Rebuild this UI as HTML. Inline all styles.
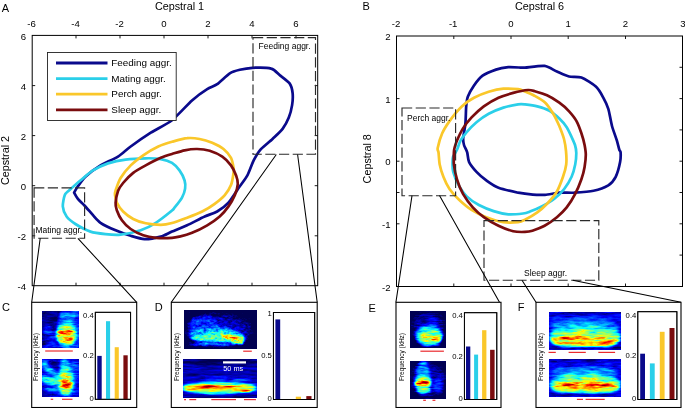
<!DOCTYPE html>
<html><head><meta charset="utf-8"><title>Figure</title>
<style>
html,body{margin:0;padding:0;background:#fff}
svg{display:block}
text{font-family:"Liberation Sans", sans-serif;fill:#000}
.t{font-size:9.6px}
.l{font-size:10.8px}
.g{font-size:9.9px}
.s{font-size:8.5px}
.b{font-size:7.7px}
.p{font-size:11px}
.f{font-size:6.5px}
.ms{font-size:7.3px;fill:#fff}
</style></head><body>
<svg width="685" height="408" viewBox="0 0 685 408">
<defs>
<filter id="b1" x="-50%" y="-50%" width="200%" height="200%"><feGaussianBlur stdDeviation="0.9"/></filter>
<filter id="b2" x="-50%" y="-50%" width="200%" height="200%"><feGaussianBlur stdDeviation="1.8"/></filter>
<filter id="b3" x="-50%" y="-50%" width="200%" height="200%"><feGaussianBlur stdDeviation="3"/></filter>
<filter id="j1" filterUnits="userSpaceOnUse" x="42.9" y="311" width="35.6" height="37" color-interpolation-filters="sRGB">
<feTurbulence type="fractalNoise" baseFrequency="0.12 0.45" numOctaves="3" seed="3" result="n"/>
<feColorMatrix in="n" type="matrix" values="1.4 0 0 0 -0.2  1.4 0 0 0 -0.2  1.4 0 0 0 -0.2  0 0 0 0 1" result="n2"/>
<feComposite in="SourceGraphic" in2="n2" operator="arithmetic" k1="0.55" k2="0.72" k3="0.1" k4="-0.05" result="m"/>
<feComponentTransfer in="m">
<feFuncR type="table" tableValues="0 0 0 0 0.5 1 1 1 0.5"/>
<feFuncG type="table" tableValues="0 0 0.5 1 1 1 0.5 0 0"/>
<feFuncB type="table" tableValues="0.32 1 1 1 0.5 0 0 0 0"/>
<feFuncA type="linear" slope="0" intercept="1"/>
</feComponentTransfer>
</filter>
<filter id="j2" filterUnits="userSpaceOnUse" x="42.7" y="359.8" width="35.8" height="36.8" color-interpolation-filters="sRGB">
<feTurbulence type="fractalNoise" baseFrequency="0.12 0.45" numOctaves="3" seed="7" result="n"/>
<feColorMatrix in="n" type="matrix" values="1.4 0 0 0 -0.2  1.4 0 0 0 -0.2  1.4 0 0 0 -0.2  0 0 0 0 1" result="n2"/>
<feComposite in="SourceGraphic" in2="n2" operator="arithmetic" k1="0.55" k2="0.72" k3="0.1" k4="-0.05" result="m"/>
<feComponentTransfer in="m">
<feFuncR type="table" tableValues="0 0 0 0 0.5 1 1 1 0.5"/>
<feFuncG type="table" tableValues="0 0 0.5 1 1 1 0.5 0 0"/>
<feFuncB type="table" tableValues="0.32 1 1 1 0.5 0 0 0 0"/>
<feFuncA type="linear" slope="0" intercept="1"/>
</feComponentTransfer>
</filter>
<filter id="j3" filterUnits="userSpaceOnUse" x="184" y="310.8" width="72.2" height="37.9" color-interpolation-filters="sRGB">
<feTurbulence type="fractalNoise" baseFrequency="0.25 0.4" numOctaves="3" seed="11" result="n"/>
<feColorMatrix in="n" type="matrix" values="1.4 0 0 0 -0.2  1.4 0 0 0 -0.2  1.4 0 0 0 -0.2  0 0 0 0 1" result="n2"/>
<feComposite in="SourceGraphic" in2="n2" operator="arithmetic" k1="0.55" k2="0.72" k3="0.1" k4="-0.085" result="m"/>
<feComponentTransfer in="m">
<feFuncR type="table" tableValues="0 0 0 0 0.5 1 1 1 0.5"/>
<feFuncG type="table" tableValues="0 0 0.5 1 1 1 0.5 0 0"/>
<feFuncB type="table" tableValues="0.32 1 1 1 0.5 0 0 0 0"/>
<feFuncA type="linear" slope="0" intercept="1"/>
</feComponentTransfer>
</filter>
<filter id="j4" filterUnits="userSpaceOnUse" x="183.8" y="359.5" width="72.7" height="37.8" color-interpolation-filters="sRGB">
<feTurbulence type="fractalNoise" baseFrequency="0.06 0.5" numOctaves="3" seed="5" result="n"/>
<feColorMatrix in="n" type="matrix" values="1.4 0 0 0 -0.2  1.4 0 0 0 -0.2  1.4 0 0 0 -0.2  0 0 0 0 1" result="n2"/>
<feComposite in="SourceGraphic" in2="n2" operator="arithmetic" k1="0.55" k2="0.72" k3="0.1" k4="-0.05" result="m"/>
<feComponentTransfer in="m">
<feFuncR type="table" tableValues="0 0 0 0 0.5 1 1 1 0.5"/>
<feFuncG type="table" tableValues="0 0 0.5 1 1 1 0.5 0 0"/>
<feFuncB type="table" tableValues="0.32 1 1 1 0.5 0 0 0 0"/>
<feFuncA type="linear" slope="0" intercept="1"/>
</feComponentTransfer>
</filter>
<filter id="j5" filterUnits="userSpaceOnUse" x="410.6" y="311.2" width="35.1" height="36.8" color-interpolation-filters="sRGB">
<feTurbulence type="fractalNoise" baseFrequency="0.1 0.6" numOctaves="3" seed="9" result="n"/>
<feColorMatrix in="n" type="matrix" values="1.4 0 0 0 -0.2  1.4 0 0 0 -0.2  1.4 0 0 0 -0.2  0 0 0 0 1" result="n2"/>
<feComposite in="SourceGraphic" in2="n2" operator="arithmetic" k1="0.55" k2="0.72" k3="0.1" k4="-0.085" result="m"/>
<feComponentTransfer in="m">
<feFuncR type="table" tableValues="0 0 0 0 0.5 1 1 1 0.5"/>
<feFuncG type="table" tableValues="0 0 0.5 1 1 1 0.5 0 0"/>
<feFuncB type="table" tableValues="0.32 1 1 1 0.5 0 0 0 0"/>
<feFuncA type="linear" slope="0" intercept="1"/>
</feComponentTransfer>
</filter>
<filter id="j6" filterUnits="userSpaceOnUse" x="410.6" y="361.5" width="35.1" height="36.8" color-interpolation-filters="sRGB">
<feTurbulence type="fractalNoise" baseFrequency="0.1 0.6" numOctaves="3" seed="13" result="n"/>
<feColorMatrix in="n" type="matrix" values="1.4 0 0 0 -0.2  1.4 0 0 0 -0.2  1.4 0 0 0 -0.2  0 0 0 0 1" result="n2"/>
<feComposite in="SourceGraphic" in2="n2" operator="arithmetic" k1="0.55" k2="0.72" k3="0.1" k4="-0.085" result="m"/>
<feComponentTransfer in="m">
<feFuncR type="table" tableValues="0 0 0 0 0.5 1 1 1 0.5"/>
<feFuncG type="table" tableValues="0 0 0.5 1 1 1 0.5 0 0"/>
<feFuncB type="table" tableValues="0.32 1 1 1 0.5 0 0 0 0"/>
<feFuncA type="linear" slope="0" intercept="1"/>
</feComponentTransfer>
</filter>
<filter id="j7" filterUnits="userSpaceOnUse" x="549" y="312.1" width="71.6" height="37" color-interpolation-filters="sRGB">
<feTurbulence type="fractalNoise" baseFrequency="0.08 0.4" numOctaves="3" seed="17" result="n"/>
<feColorMatrix in="n" type="matrix" values="1.4 0 0 0 -0.2  1.4 0 0 0 -0.2  1.4 0 0 0 -0.2  0 0 0 0 1" result="n2"/>
<feComposite in="SourceGraphic" in2="n2" operator="arithmetic" k1="0.55" k2="0.72" k3="0.1" k4="-0.05" result="m"/>
<feComponentTransfer in="m">
<feFuncR type="table" tableValues="0 0 0 0 0.5 1 1 1 0.5"/>
<feFuncG type="table" tableValues="0 0 0.5 1 1 1 0.5 0 0"/>
<feFuncB type="table" tableValues="0.32 1 1 1 0.5 0 0 0 0"/>
<feFuncA type="linear" slope="0" intercept="1"/>
</feComponentTransfer>
</filter>
<filter id="j8" filterUnits="userSpaceOnUse" x="549" y="359.2" width="71.6" height="37.1" color-interpolation-filters="sRGB">
<feTurbulence type="fractalNoise" baseFrequency="0.08 0.4" numOctaves="3" seed="19" result="n"/>
<feColorMatrix in="n" type="matrix" values="1.4 0 0 0 -0.2  1.4 0 0 0 -0.2  1.4 0 0 0 -0.2  0 0 0 0 1" result="n2"/>
<feComposite in="SourceGraphic" in2="n2" operator="arithmetic" k1="0.55" k2="0.72" k3="0.1" k4="-0.05" result="m"/>
<feComponentTransfer in="m">
<feFuncR type="table" tableValues="0 0 0 0 0.5 1 1 1 0.5"/>
<feFuncG type="table" tableValues="0 0 0.5 1 1 1 0.5 0 0"/>
<feFuncB type="table" tableValues="0.32 1 1 1 0.5 0 0 0 0"/>
<feFuncA type="linear" slope="0" intercept="1"/>
</feComponentTransfer>
</filter>
</defs>
<rect width="685" height="408" fill="#fff"/>
<rect x="32.2" y="35.4" width="285.5" height="250.29999999999998" fill="#fff" stroke="#000" stroke-width="1"/><path d="M76.0,35.4v3M76.0,285.7v-3M120.0,35.4v3M120.0,285.7v-3M164.0,35.4v3M164.0,285.7v-3M208.0,35.4v3M208.0,285.7v-3M252.0,35.4v3M252.0,285.7v-3M296.0,35.4v3M296.0,285.7v-3M32.2,85.6h3M32.2,135.6h3M32.2,185.7h3M32.2,235.8h3M317.7,85.6h-3M317.7,135.6h-3M317.7,185.7h-3M317.7,235.8h-3" stroke="#000" stroke-width="0.9" fill="none"/>
<text x="31.5" y="26.9" class="t" text-anchor="middle">-6</text>
<text x="75.5" y="26.9" class="t" text-anchor="middle">-4</text>
<text x="119.5" y="26.9" class="t" text-anchor="middle">-2</text>
<text x="164.0" y="26.9" class="t" text-anchor="middle">0</text>
<text x="208.0" y="26.9" class="t" text-anchor="middle">2</text>
<text x="252.0" y="26.9" class="t" text-anchor="middle">4</text>
<text x="296.0" y="26.9" class="t" text-anchor="middle">6</text>
<text x="26" y="39.5" class="t" text-anchor="end">6</text>
<text x="26" y="89.6" class="t" text-anchor="end">4</text>
<text x="26" y="139.6" class="t" text-anchor="end">2</text>
<text x="26" y="189.7" class="t" text-anchor="end">0</text>
<text x="26" y="239.8" class="t" text-anchor="end">-2</text>
<text x="26" y="289.8" class="t" text-anchor="end">-4</text>
<text x="179.5" y="9.6" class="l" text-anchor="middle">Cepstral 1</text>
<text transform="translate(9.3,160.5) rotate(-90)" class="l" text-anchor="middle">Cepstral 2</text>
<path d="M74.1,192.6C74.1,192.6 76.5,188.3 77.9,186.3C79.3,184.3 82.6,179.3 85.4,176.7C88.2,174.1 96.4,167.9 100.5,165.4C104.6,162.9 114.2,159.0 118.0,156.6C121.8,154.2 126.6,149.5 130.7,146.5C134.8,143.5 145.6,136.0 150.8,132.7C156.0,129.4 166.8,124.2 172.0,120.2C177.2,116.2 187.6,104.4 192.0,100.5C196.4,96.6 204.0,91.2 207.2,89.2C210.3,87.2 214.4,86.2 217.2,84.2C220.0,82.2 227.0,75.2 229.8,73.4C232.6,71.6 237.0,70.5 239.8,69.8C242.6,69.1 248.5,68.0 252.4,67.8C256.3,67.6 267.8,67.6 271.2,68.6C274.6,69.5 277.7,73.6 280.0,75.4C282.3,77.2 288.0,81.2 289.6,83.4C291.2,85.6 292.3,90.3 292.6,93.0C292.9,95.7 292.6,102.0 292.1,105.1C291.6,108.2 290.0,114.6 288.8,117.6C287.6,120.6 284.6,126.2 282.6,128.9C280.6,131.6 275.3,136.3 272.5,139.0C269.7,141.7 262.2,147.6 259.9,150.3C257.5,153.0 255.3,157.3 253.7,160.4C252.1,163.5 249.1,172.2 247.4,175.4C245.7,178.6 242.2,182.9 239.8,186.3C237.4,189.7 231.3,199.5 228.5,202.7C225.7,205.8 220.2,209.8 217.2,211.5C214.2,213.2 208.5,214.8 204.7,216.5C200.9,218.2 191.2,223.4 187.1,225.3C183.0,227.2 175.3,230.2 172.0,231.6C168.7,233.0 164.2,235.7 160.8,236.6C157.4,237.5 148.3,239.2 144.5,239.1C140.7,239.0 134.3,236.9 130.7,235.8C127.1,234.7 119.4,231.9 115.6,230.3C111.8,228.7 103.3,224.7 100.5,222.8C97.7,220.9 95.0,217.4 93.0,215.2C91.0,213.0 86.1,207.2 84.2,205.2C82.3,203.2 79.2,200.5 77.9,198.9C76.6,197.3 74.1,192.6 74.1,192.6Z" fill="none" stroke="#0a0a8c" stroke-width="2.7" stroke-linejoin="round"/>
<path d="M69.0,190.5C71.0,188.7 77.4,183.0 80.4,180.5C83.4,178.0 89.5,172.5 93.0,170.4C96.5,168.3 103.9,164.8 108.0,163.4C112.1,162.1 120.9,160.2 125.6,159.6C130.3,159.0 141.3,158.4 145.7,158.3C150.1,158.2 157.5,158.5 160.8,159.1C164.1,159.7 169.7,161.5 172.0,162.9C174.3,164.3 177.9,168.2 179.5,170.4C181.1,172.6 183.9,178.2 184.6,180.5C185.3,182.8 185.4,186.5 185.1,188.6C184.8,190.7 183.3,195.2 182.0,197.6C180.7,200.0 175.8,206.1 174.5,207.7C173.2,209.3 174.3,208.6 172.0,210.5C169.7,212.4 159.7,220.3 155.8,222.8C151.9,225.3 145.1,228.8 140.7,230.3C136.3,231.8 125.0,234.1 120.6,234.6C116.2,235.1 109.3,234.5 105.5,234.1C101.7,233.7 94.3,232.9 90.5,231.6C86.7,230.3 78.4,225.9 75.4,224.0C72.4,222.1 68.2,218.7 66.6,216.5C65.0,214.3 63.0,209.1 62.8,206.4C62.6,203.7 64.0,197.1 64.8,195.1C65.6,193.1 67.0,192.3 69.0,190.5Z" fill="none" stroke="#2acfe9" stroke-width="2.7" stroke-linejoin="round"/>
<path d="M115.6,190.5C116.3,188.4 118.7,181.1 120.6,178.0C122.5,174.9 127.9,168.2 130.7,165.4C133.5,162.6 139.8,157.7 143.2,155.3C146.6,152.9 154.7,148.2 158.3,146.5C161.9,144.8 168.4,142.8 172.0,141.8C175.6,140.8 183.7,138.5 187.1,138.2C190.5,137.8 196.5,138.4 199.6,139.0C202.7,139.6 209.2,141.6 212.2,142.8C215.2,144.1 221.2,147.1 223.5,149.0C225.8,150.9 229.7,155.4 231.0,157.8C232.3,160.2 233.3,166.1 233.6,167.9C233.9,169.7 233.9,170.3 233.6,172.5C233.3,174.7 232.1,182.3 231.0,185.1C229.9,187.9 226.8,192.8 224.8,195.1C222.8,197.4 217.5,201.8 214.7,203.9C211.9,206.0 205.6,209.8 202.2,211.5C198.8,213.2 190.9,216.3 187.1,217.7C183.3,219.1 175.3,222.1 172.0,223.0C168.7,223.9 164.1,224.8 160.8,224.8C157.5,224.8 149.1,224.0 145.7,223.3C142.2,222.6 136.0,220.5 133.2,219.0C130.4,217.5 125.1,213.5 123.1,211.5C121.0,209.5 117.8,204.8 116.8,202.7C115.8,200.6 115.2,196.6 115.0,195.1C114.8,193.6 114.9,192.6 115.6,190.5Z" fill="none" stroke="#fac72a" stroke-width="2.7" stroke-linejoin="round"/>
<path d="M118.0,191.0C118.9,188.5 121.2,185.3 123.1,183.0C125.0,180.7 130.4,175.1 133.2,172.9C136.0,170.7 142.2,167.3 145.7,165.4C149.1,163.5 157.5,159.2 160.8,157.8C164.1,156.4 169.0,154.9 172.0,154.0C175.0,153.1 181.5,150.9 184.6,150.3C187.7,149.7 194.0,148.9 197.1,149.0C200.2,149.1 206.5,149.9 209.7,150.8C212.8,151.8 219.6,154.8 222.3,156.6C225.0,158.4 229.3,163.1 231.0,165.4C232.7,167.8 235.2,173.1 236.1,175.4C236.9,177.7 238.0,181.5 237.8,184.0C237.6,186.5 236.0,192.3 234.8,195.1C233.6,197.9 230.4,203.7 228.5,206.4C226.6,209.1 222.4,214.1 219.7,216.5C217.0,218.9 210.6,223.3 207.2,225.3C203.8,227.3 195.6,231.4 192.1,232.8C188.6,234.2 182.0,236.0 179.5,236.6C177.0,237.2 175.0,237.7 172.0,237.8C169.0,238.0 159.4,238.1 155.8,237.8C152.2,237.5 146.3,236.4 143.2,235.3C140.1,234.2 133.4,230.9 130.7,229.0C128.0,227.1 123.6,222.7 121.9,220.3C120.2,218.0 117.6,212.4 116.8,210.2C116.0,208.0 115.4,205.1 115.6,202.7C115.8,200.3 117.1,193.5 118.0,191.0Z" fill="none" stroke="#7a0c0e" stroke-width="2.7" stroke-linejoin="round"/>
<rect x="47.5" y="52.5" width="128.7" height="68" fill="#fff" stroke="#222" stroke-width="0.9"/>
<line x1="56" y1="63.0" x2="107.5" y2="63.0" stroke="#0a0a8c" stroke-width="2.8"/>
<text x="111.3" y="66.2" class="g">Feeding aggr.</text>
<line x1="56" y1="78.6" x2="107.5" y2="78.6" stroke="#2acfe9" stroke-width="2.8"/>
<text x="111.3" y="81.8" class="g">Mating aggr.</text>
<line x1="56" y1="94.2" x2="107.5" y2="94.2" stroke="#fac72a" stroke-width="2.8"/>
<text x="111.3" y="97.4" class="g">Perch aggr.</text>
<line x1="56" y1="109.8" x2="107.5" y2="109.8" stroke="#7a0c0e" stroke-width="2.8"/>
<text x="111.3" y="113.0" class="g">Sleep aggr.</text>
<rect x="253" y="37.6" width="62.5" height="116.70000000000002" fill="none" stroke="#2a2a2a" stroke-width="1.15" stroke-dasharray="10.2,3.5"/>
<text x="258.6" y="48.9" class="s">Feeding aggr.</text>
<rect x="34.1" y="187.9" width="50.49999999999999" height="50.29999999999998" fill="none" stroke="#2a2a2a" stroke-width="1.15" stroke-dasharray="10.2,3.5"/>
<text x="35.4" y="232.8" class="s">Mating aggr.</text>
<path d="M40.2,238.3L31.7,302.3M77.9,238.3L136.7,302.3M276.3,154.5L171.3,302.3M297.6,154.5L317.2,302.3" stroke="#000" stroke-width="1.05" fill="none"/>
<text x="1.8" y="11.8" class="p">A</text>
<text x="362.5" y="10.1" class="p">B</text>
<rect x="396.5" y="36" width="286.0" height="250.5" fill="#fff" stroke="#000" stroke-width="1"/><path d="M453.8,36v3M453.8,286.5v-3M511.0,36v3M511.0,286.5v-3M568.2,36v3M568.2,286.5v-3M625.5,36v3M625.5,286.5v-3M396.5,98.6h3M396.5,161.2h3M396.5,192.5h3M396.5,223.8h3M682.5,67.3h-3M682.5,98.6h-3M682.5,129.9h-3M682.5,161.2h-3M682.5,192.5h-3M682.5,223.8h-3M682.5,255.1h-3" stroke="#000" stroke-width="0.9" fill="none"/>
<text x="396.0" y="26.9" class="t" text-anchor="middle">-2</text>
<text x="453.2" y="26.9" class="t" text-anchor="middle">-1</text>
<text x="511.0" y="26.9" class="t" text-anchor="middle">0</text>
<text x="568.2" y="26.9" class="t" text-anchor="middle">1</text>
<text x="625.5" y="26.9" class="t" text-anchor="middle">2</text>
<text x="682.8" y="26.9" class="t" text-anchor="middle">3</text>
<text x="390.5" y="40.2" class="t" text-anchor="end">2</text>
<text x="390.5" y="102.8" class="t" text-anchor="end">1</text>
<text x="390.5" y="165.4" class="t" text-anchor="end">0</text>
<text x="390.5" y="228.0" class="t" text-anchor="end">-1</text>
<text x="390.5" y="290.6" class="t" text-anchor="end">-2</text>
<text x="539.5" y="9.6" class="l" text-anchor="middle">Cepstral 6</text>
<text transform="translate(371,158.8) rotate(-90)" class="l" text-anchor="middle">Cepstral 8</text>
<path d="M464.0,145.0C463.5,143.2 463.0,140.9 463.2,138.2C463.4,135.5 465.0,127.5 465.4,123.5C465.8,119.5 465.9,109.8 466.2,106.4C466.5,103.0 466.9,99.2 467.9,96.6C468.9,94.0 472.2,88.1 474.0,85.5C475.8,82.9 479.9,77.7 482.6,75.7C485.4,73.7 492.8,70.7 496.0,69.6C499.2,68.5 505.2,67.5 508.3,67.2C511.4,67.0 518.5,67.5 520.6,67.6C522.7,67.6 522.0,67.8 525.0,67.6C528.0,67.4 540.6,65.4 544.6,65.9C548.6,66.4 553.8,70.3 556.9,71.6C560.0,72.9 566.0,75.8 569.1,76.5C572.2,77.2 578.0,76.2 581.4,77.5C584.8,78.8 593.4,84.3 596.1,86.8C598.9,89.3 601.9,95.0 603.4,97.8C604.9,100.5 607.2,105.3 608.3,108.8C609.4,112.3 610.9,122.0 612.0,126.0C613.1,130.0 616.0,137.7 616.9,140.7C617.8,143.7 618.9,148.6 619.4,150.0C619.9,151.4 620.5,150.8 620.6,152.3C620.7,153.8 620.7,159.0 620.1,162.1C619.5,165.2 617.2,173.9 615.7,176.8C614.2,179.7 611.1,183.6 608.3,185.3C605.5,187.0 597.9,189.8 593.6,190.7C589.3,191.6 578.3,192.4 574.0,192.7C569.7,192.9 562.9,192.4 559.3,192.7C555.7,193.0 548.3,194.6 545.0,194.8C541.7,195.0 536.2,194.9 532.8,194.6C529.4,194.3 522.4,193.5 518.1,192.7C513.8,191.8 502.5,189.3 498.5,187.8C494.5,186.3 489.1,182.4 486.3,180.4C483.6,178.4 478.6,174.2 476.5,171.9C474.4,169.6 470.3,164.5 469.1,162.1C467.9,159.7 467.8,154.4 467.2,152.3C466.6,150.2 464.5,146.8 464.0,145.0Z" fill="none" stroke="#0a0a8c" stroke-width="2.7" stroke-linejoin="round"/>
<path d="M452.5,164.5C452.5,162.6 452.4,158.8 453.0,157.0C453.6,155.2 456.0,152.0 456.9,150.0C457.8,148.0 459.3,142.9 460.5,140.7C461.7,138.5 464.7,134.4 466.7,132.1C468.7,129.8 473.8,124.6 476.5,122.3C479.2,120.0 485.3,115.5 488.7,113.7C492.1,111.9 499.7,108.8 503.4,107.6C507.1,106.4 515.4,104.8 518.1,104.4C520.8,104.0 522.6,104.2 525.0,104.4C527.4,104.7 534.2,105.6 537.3,106.4C540.4,107.2 546.8,109.3 549.5,110.8C552.2,112.3 557.1,116.5 559.3,118.6C561.4,120.6 565.2,124.9 566.7,127.2C568.2,129.5 570.6,134.8 571.6,137.0C572.6,139.2 574.4,143.0 575.0,145.0C575.6,147.0 576.3,150.6 576.3,153.0C576.3,155.4 575.8,161.5 575.2,164.5C574.6,167.5 573.0,173.7 571.6,176.8C570.2,179.9 566.4,186.2 564.2,189.0C562.1,191.8 557.1,196.7 554.4,198.8C551.6,201.0 545.3,204.6 542.2,206.2C539.1,207.8 532.3,210.7 529.9,211.6C527.5,212.5 525.7,213.2 523.0,213.5C520.3,213.8 512.0,214.6 508.3,214.3C504.6,214.0 497.3,212.3 493.6,211.1C489.9,209.9 482.3,206.8 478.9,205.0C475.5,203.2 469.3,199.0 466.7,196.4C464.1,193.8 459.8,187.2 458.1,184.1C456.4,181.0 453.9,174.3 453.2,171.9C452.5,169.5 452.5,166.4 452.5,164.5Z" fill="none" stroke="#2acfe9" stroke-width="2.7" stroke-linejoin="round"/>
<path d="M437.7,148.0C438.2,145.6 440.7,136.7 442.2,133.3C443.7,129.9 447.1,124.5 449.5,121.1C451.9,117.7 458.7,109.3 461.8,106.4C464.9,103.5 470.6,99.6 474.0,97.8C477.4,96.0 485.0,92.8 488.7,91.7C492.4,90.6 499.7,89.0 503.4,88.7C507.1,88.4 515.4,88.9 518.1,89.2C520.8,89.5 523.0,90.7 525.0,91.5C527.0,92.3 531.5,94.1 534.0,95.5C536.5,96.9 542.6,100.2 545.0,102.5C547.4,104.8 551.4,110.8 553.2,113.7C555.0,116.6 557.9,122.8 559.3,126.0C560.6,129.2 563.2,135.9 564.0,139.0C564.8,142.1 565.7,147.8 566.0,151.0C566.3,154.2 566.6,161.3 566.2,164.5C565.8,167.7 564.2,173.4 563.0,176.8C561.8,180.2 558.9,188.1 556.9,191.5C554.9,194.9 549.6,201.1 547.1,203.7C544.6,206.3 540.1,210.3 537.3,212.3C534.5,214.3 527.4,218.5 525.0,219.7C522.6,220.9 520.8,221.8 518.1,222.1C515.4,222.4 507.4,222.7 503.4,222.1C499.4,221.5 490.3,218.7 486.3,217.2C482.3,215.7 475.0,212.1 471.6,209.9C468.2,207.8 462.1,202.6 459.3,200.0C456.5,197.4 451.5,191.9 449.5,189.0C447.5,186.1 444.6,179.9 443.4,176.8C442.2,173.7 440.3,167.6 439.7,164.5C439.1,161.4 438.8,154.4 438.5,152.3C438.2,150.2 437.2,150.4 437.7,148.0Z" fill="none" stroke="#fac72a" stroke-width="2.7" stroke-linejoin="round"/>
<path d="M453.9,152.3C454.0,150.2 454.1,149.4 454.5,148.0C454.9,146.6 455.8,143.1 456.9,140.7C458.0,138.2 461.2,131.3 463.0,128.4C464.8,125.5 469.0,120.2 471.6,117.4C474.2,114.7 480.4,108.9 483.8,106.4C487.2,104.0 494.8,99.5 498.5,97.8C502.2,96.1 509.5,93.9 513.2,92.9C516.9,91.9 525.3,90.2 528.0,90.0C530.7,89.8 532.4,90.5 534.8,91.2C537.2,91.9 543.9,93.9 547.0,95.3C550.1,96.7 556.5,100.7 559.3,102.7C562.1,104.7 567.0,109.0 569.1,111.3C571.2,113.6 575.0,118.3 576.5,121.1C578.0,123.8 580.4,130.3 581.4,133.3C582.4,136.3 584.1,142.3 584.6,145.0C585.1,147.7 585.8,151.9 585.8,154.7C585.8,157.4 585.1,163.9 584.6,167.0C584.1,170.1 582.6,175.8 581.4,179.2C580.2,182.6 577.0,190.4 575.2,193.9C573.4,197.4 569.0,204.5 566.7,207.4C564.4,210.3 559.7,214.9 556.9,217.2C554.1,219.5 547.7,224.1 544.6,225.8C541.5,227.5 534.9,229.9 532.4,230.7C529.9,231.5 527.4,231.8 525.0,231.9C522.6,232.0 516.5,232.0 513.2,231.2C509.9,230.4 502.2,227.6 498.5,225.8C494.8,224.1 487.0,219.5 483.8,217.2C480.6,214.9 475.4,210.3 472.8,207.4C470.2,204.5 465.0,197.4 463.0,193.9C461.0,190.4 458.0,182.9 456.9,179.2C455.8,175.5 454.3,167.9 453.9,164.5C453.5,161.1 453.8,154.4 453.9,152.3Z" fill="none" stroke="#7a0c0e" stroke-width="2.7" stroke-linejoin="round"/>
<rect x="402" y="108" width="53.60000000000002" height="87.69999999999999" fill="none" stroke="#2a2a2a" stroke-width="1.15" stroke-dasharray="10.2,3.5"/>
<text x="407" y="121" class="s">Perch aggr.</text>
<rect x="484" y="220.6" width="114.79999999999995" height="59.599999999999994" fill="none" stroke="#2a2a2a" stroke-width="1.15" stroke-dasharray="10.2,3.5"/>
<text x="524" y="275.5" class="s">Sleep aggr.</text>
<path d="M412,195.7L395.9,302.3M439.5,195.5L499.5,302.3M522,280.3L536,302.3M572.8,280.3L681,302.3" stroke="#000" stroke-width="1.05" fill="none"/>
<text x="2" y="311.4" class="p">C</text>
<rect x="31.7" y="302.3" width="104.99999999999999" height="105.19999999999999" fill="#fff" stroke="#000" stroke-width="1.1"/>
<text transform="translate(37.8,357) rotate(-90)" class="f" text-anchor="middle">Frequency (kHz)</text>
<g filter="url(#j1)"><rect x="40.9" y="309" width="39.6" height="41" fill="#0b0b0b"/><ellipse cx="69.9" cy="329" rx="12.5" ry="26" fill="#2b2b2b" filter="url(#b1)" transform="rotate(0 69.9 329)"/><ellipse cx="49.9" cy="332.5" rx="7" ry="1.6" fill="#3d3d3d" filter="url(#b1)" transform="rotate(0 49.9 332.5)"/><ellipse cx="50.9" cy="338" rx="7" ry="1.3" fill="#383838" filter="url(#b1)" transform="rotate(0 50.9 338)"/><ellipse cx="47.9" cy="327" rx="4" ry="1.2" fill="#333333" filter="url(#b1)" transform="rotate(0 47.9 327)"/><ellipse cx="50.9" cy="343" rx="6" ry="1" fill="#333333" filter="url(#b1)" transform="rotate(0 50.9 343)"/><ellipse cx="68.9" cy="315" rx="9" ry="2.5" fill="#4c4c4c" filter="url(#b1)" transform="rotate(0 68.9 315)"/><ellipse cx="66.9" cy="322" rx="8" ry="2" fill="#454545" filter="url(#b1)" transform="rotate(0 66.9 322)"/><ellipse cx="66.4" cy="334" rx="10.5" ry="12" fill="#6b6b6b" filter="url(#b2)" transform="rotate(0 66.4 334)"/><ellipse cx="66.4" cy="335" rx="9" ry="10" fill="#8f8f8f" filter="url(#b2)" transform="rotate(0 66.4 335)"/><ellipse cx="65.9" cy="337" rx="7.5" ry="6" fill="#a3a3a3" filter="url(#b1)" transform="rotate(0 65.9 337)"/><ellipse cx="64.9" cy="332.3" rx="7.5" ry="1.6" fill="#dbdbdb" filter="url(#b1)" transform="rotate(0 64.9 332.3)"/><ellipse cx="66.9" cy="339" rx="6" ry="1.2" fill="#c7c7c7" filter="url(#b1)" transform="rotate(0 66.9 339)"/><ellipse cx="60.9" cy="346.3" rx="18" ry="0.8" fill="#4c4c4c" filter="url(#b1)" transform="rotate(0 60.9 346.3)"/></g>
<line x1="45.2" y1="351" x2="72.8" y2="351" stroke="#ea2a2e" stroke-width="1.2"/>
<g filter="url(#j2)"><rect x="40.7" y="357.8" width="39.8" height="40.8" fill="#1a1a1a"/><ellipse cx="45.7" cy="392.8" rx="7" ry="7" fill="#080808" filter="url(#b2)" transform="rotate(0 45.7 392.8)"/><ellipse cx="55.7" cy="363.8" rx="7" ry="4" fill="#080808" filter="url(#b2)" transform="rotate(0 55.7 363.8)"/><ellipse cx="44.7" cy="362.8" rx="3" ry="3" fill="#404040" filter="url(#b1)" transform="rotate(0 44.7 362.8)"/><ellipse cx="51.7" cy="371.8" rx="14" ry="2.6" fill="#5c5c5c" filter="url(#b2)" transform="rotate(40 51.7 371.8)"/><ellipse cx="50.7" cy="380.8" rx="11" ry="3.4" fill="#737373" filter="url(#b2)" transform="rotate(14 50.7 380.8)"/><ellipse cx="51.7" cy="389.8" rx="9" ry="2" fill="#575757" filter="url(#b2)" transform="rotate(5 51.7 389.8)"/><ellipse cx="64.7" cy="364.8" rx="5" ry="6" fill="#4c4c4c" filter="url(#b2)" transform="rotate(0 64.7 364.8)"/><ellipse cx="74.7" cy="369.8" rx="5" ry="9" fill="#333333" filter="url(#b2)" transform="rotate(0 74.7 369.8)"/><ellipse cx="73.7" cy="386.8" rx="4" ry="8" fill="#2b2b2b" filter="url(#b2)" transform="rotate(0 73.7 386.8)"/><ellipse cx="65.7" cy="380.8" rx="8" ry="15" fill="#6b6b6b" filter="url(#b2)" transform="rotate(0 65.7 380.8)"/><ellipse cx="65.7" cy="382.8" rx="6.8" ry="11" fill="#8c8c8c" filter="url(#b2)" transform="rotate(0 65.7 382.8)"/><ellipse cx="66.2" cy="383.8" rx="5.2" ry="7" fill="#a8a8a8" filter="url(#b1)" transform="rotate(0 66.2 383.8)"/><ellipse cx="66.2" cy="384.3" rx="4" ry="3" fill="#dbdbdb" filter="url(#b1)" transform="rotate(0 66.2 384.3)"/></g>
<line x1="50.7" y1="399.3" x2="53.2" y2="399.3" stroke="#ea2a2e" stroke-width="1.2"/><line x1="62" y1="399.3" x2="72.5" y2="399.3" stroke="#ea2a2e" stroke-width="1.2"/>
<rect x="95.3" y="312.3" width="35.3" height="87.0" fill="#fff" stroke="#000" stroke-width="0.9"/><rect x="97.3" y="355.9" width="4.4" height="43.4" fill="#0a0a8c"/><rect x="106" y="321.2" width="4.1" height="78.1" fill="#2acfe9"/><rect x="114.7" y="347.2" width="4.1" height="52.1" fill="#fac72a"/><rect x="123.4" y="355.3" width="4.3" height="44.0" fill="#7a0c0e"/><text x="93.8" y="318.2" class="b" text-anchor="end">0.4</text><text x="93.8" y="357.8" class="b" text-anchor="end">0.2</text><text x="93.8" y="400.8" class="b" text-anchor="end">0</text><rect x="95.3" y="312.3" width="35.3" height="87.0" fill="none" stroke="#000" stroke-width="0.9"/>
<text x="154.8" y="311.4" class="p">D</text>
<rect x="171.3" y="302.3" width="145.89999999999998" height="105.19999999999999" fill="#fff" stroke="#000" stroke-width="1.1"/>
<text transform="translate(178.8,357) rotate(-90)" class="f" text-anchor="middle">Frequency (kHz)</text>
<g filter="url(#j3)"><rect x="182" y="308.8" width="76.2" height="41.9" fill="#000000"/><ellipse cx="219" cy="329.8" rx="32" ry="15" fill="#1f1f1f" filter="url(#b3)" transform="rotate(0 219 329.8)"/><ellipse cx="204" cy="325.8" rx="15" ry="10" fill="#333333" filter="url(#b2)" transform="rotate(0 204 325.8)"/><ellipse cx="215" cy="334.8" rx="26" ry="7.5" fill="#545454" filter="url(#b2)" transform="rotate(0 215 334.8)"/><ellipse cx="225" cy="336.8" rx="21" ry="5" fill="#737373" filter="url(#b2)" transform="rotate(5 225 336.8)"/><ellipse cx="204" cy="338.3" rx="13" ry="1.6" fill="#949494" filter="url(#b1)" transform="rotate(0 204 338.3)"/><ellipse cx="232" cy="337.8" rx="13" ry="2.3" fill="#999999" filter="url(#b1)" transform="rotate(6 232 337.8)"/><ellipse cx="230" cy="337.1" rx="9" ry="1.0" fill="#e0e0e0" filter="url(#b1)" transform="rotate(8 230 337.1)"/><ellipse cx="237" cy="341.8" rx="7" ry="1.8" fill="#adadad" filter="url(#b1)" transform="rotate(10 237 341.8)"/><ellipse cx="212" cy="344.1" rx="24" ry="1.2" fill="#5c5c5c" filter="url(#b1)" transform="rotate(0 212 344.1)"/></g>
<line x1="243.2" y1="351.2" x2="251.8" y2="351.2" stroke="#ea2a2e" stroke-width="1.2"/>
<g filter="url(#j4)"><rect x="181.8" y="357.5" width="76.7" height="41.8" fill="#121212"/><ellipse cx="219.8" cy="361.5" rx="40" ry="3.5" fill="#050505" filter="url(#b2)" transform="rotate(0 219.8 361.5)"/><ellipse cx="219.8" cy="396.4" rx="40" ry="1.6" fill="#050505" filter="url(#b1)" transform="rotate(0 219.8 396.4)"/><ellipse cx="215.8" cy="379.0" rx="12" ry="1.6" fill="#333333" filter="url(#b1)" transform="rotate(0 215.8 379.0)"/><ellipse cx="241.8" cy="379.5" rx="10" ry="1.6" fill="#333333" filter="url(#b1)" transform="rotate(0 241.8 379.5)"/><ellipse cx="219.8" cy="388.0" rx="38" ry="6.2" fill="#5e5e5e" filter="url(#b2)" transform="rotate(0 219.8 388.0)"/><ellipse cx="218.8" cy="388.0" rx="36.5" ry="4.6" fill="#858585" filter="url(#b2)" transform="rotate(0 218.8 388.0)"/><ellipse cx="218.8" cy="388.0" rx="35" ry="3.2" fill="#a8a8a8" filter="url(#b1)" transform="rotate(0 218.8 388.0)"/><ellipse cx="211.8" cy="386.8" rx="23" ry="0.9" fill="#e6e6e6" filter="url(#b1)" transform="rotate(0 211.8 386.8)"/><ellipse cx="245.8" cy="391.2" rx="5" ry="0.9" fill="#e6e6e6" filter="url(#b1)" transform="rotate(0 245.8 391.2)"/></g>
<rect x="223" y="361.3" width="23" height="2.2" fill="#fff"/>
<text x="223.3" y="370.7" class="ms">50 ms</text>
<line x1="184.1" y1="399.6" x2="186" y2="399.6" stroke="#ea2a2e" stroke-width="1.2"/><line x1="189.3" y1="399.6" x2="196.2" y2="399.6" stroke="#ea2a2e" stroke-width="1.2"/><line x1="211.3" y1="399.6" x2="236" y2="399.6" stroke="#ea2a2e" stroke-width="1.2"/><line x1="244" y1="399.6" x2="255.9" y2="399.6" stroke="#ea2a2e" stroke-width="1.2"/>
<rect x="273.4" y="312.5" width="41.30000000000001" height="87.0" fill="#fff" stroke="#000" stroke-width="0.9"/><rect x="275.4" y="319.4" width="4.8" height="80.1" fill="#0a0a8c"/><rect x="295.8" y="396.7" width="5.2" height="2.8" fill="#fac72a"/><rect x="306.3" y="396.1" width="5.2" height="3.4" fill="#7a0c0e"/><text x="271.9" y="316" class="b" text-anchor="end">1</text><text x="271.9" y="358.2" class="b" text-anchor="end">0.5</text><text x="271.9" y="400.8" class="b" text-anchor="end">0</text><rect x="273.4" y="312.5" width="41.30000000000001" height="87.0" fill="none" stroke="#000" stroke-width="0.9"/>
<text x="368.5" y="312.3" class="p">E</text>
<rect x="396" y="302.3" width="105" height="105.19999999999999" fill="#fff" stroke="#000" stroke-width="1.1"/>
<text transform="translate(403.6,357) rotate(-90)" class="f" text-anchor="middle">Frequency (kHz)</text>
<g filter="url(#j5)"><rect x="408.6" y="309.2" width="39.1" height="40.8" fill="#000000"/><ellipse cx="428.6" cy="327.2" rx="15" ry="15" fill="#1f1f1f" filter="url(#b3)" transform="rotate(0 428.6 327.2)"/><ellipse cx="430.6" cy="319.2" rx="8" ry="1" fill="#333333" filter="url(#b1)" transform="rotate(0 430.6 319.2)"/><ellipse cx="430.6" cy="324.2" rx="8" ry="1" fill="#333333" filter="url(#b1)" transform="rotate(0 430.6 324.2)"/><ellipse cx="428.6" cy="335.2" rx="13.5" ry="10" fill="#545454" filter="url(#b2)" transform="rotate(0 428.6 335.2)"/><ellipse cx="429.6" cy="336.7" rx="12.5" ry="8" fill="#787878" filter="url(#b2)" transform="rotate(0 429.6 336.7)"/><ellipse cx="430.6" cy="337.7" rx="10" ry="5.5" fill="#949494" filter="url(#b1)" transform="rotate(0 430.6 337.7)"/><ellipse cx="435.6" cy="339.7" rx="4.5" ry="1.8" fill="#cccccc" filter="url(#b1)" transform="rotate(0 435.6 339.7)"/><ellipse cx="430.6" cy="344.7" rx="10" ry="1" fill="#595959" filter="url(#b1)" transform="rotate(0 430.6 344.7)"/></g>
<line x1="420.4" y1="351.2" x2="443.9" y2="351.2" stroke="#ea2a2e" stroke-width="1.2"/>
<g filter="url(#j6)"><rect x="408.6" y="359.5" width="39.1" height="40.8" fill="#000000"/><ellipse cx="428.6" cy="379.5" rx="16" ry="17" fill="#1f1f1f" filter="url(#b3)" transform="rotate(0 428.6 379.5)"/><ellipse cx="423.1" cy="377.5" rx="7" ry="17" fill="#4c4c4c" filter="url(#b2)" transform="rotate(0 423.1 377.5)"/><ellipse cx="423.1" cy="382.5" rx="8.5" ry="7" fill="#808080" filter="url(#b2)" transform="rotate(0 423.1 382.5)"/><ellipse cx="423.1" cy="382.5" rx="7.5" ry="4" fill="#a6a6a6" filter="url(#b1)" transform="rotate(0 423.1 382.5)"/><ellipse cx="423.1" cy="383.0" rx="6" ry="2" fill="#e6e6e6" filter="url(#b1)" transform="rotate(0 423.1 383.0)"/><ellipse cx="423.6" cy="390.5" rx="7.5" ry="2" fill="#949494" filter="url(#b1)" transform="rotate(0 423.6 390.5)"/><ellipse cx="437.6" cy="385.5" rx="5" ry="8" fill="#333333" filter="url(#b2)" transform="rotate(0 437.6 385.5)"/></g>
<line x1="423.2" y1="400.3" x2="425.9" y2="400.3" stroke="#ea2a2e" stroke-width="1.2"/><line x1="432.5" y1="400.3" x2="435.4" y2="400.3" stroke="#ea2a2e" stroke-width="1.2"/>
<rect x="464.4" y="312.7" width="32.400000000000034" height="86.80000000000001" fill="#fff" stroke="#000" stroke-width="0.9"/><rect x="466" y="346.5" width="4.3" height="53.0" fill="#0a0a8c"/><rect x="474.1" y="354.6" width="4.0" height="44.9" fill="#2acfe9"/><rect x="482.1" y="330.2" width="4.3" height="69.3" fill="#fac72a"/><rect x="490.1" y="349.8" width="4.5" height="49.7" fill="#7a0c0e"/><text x="462.9" y="318.2" class="b" text-anchor="end">0.4</text><text x="462.9" y="358.8" class="b" text-anchor="end">0.2</text><text x="462.9" y="400.8" class="b" text-anchor="end">0</text><rect x="464.4" y="312.7" width="32.400000000000034" height="86.80000000000001" fill="none" stroke="#000" stroke-width="0.9"/>
<text x="517.8" y="310.7" class="p">F</text>
<rect x="536" y="302.3" width="145" height="105.19999999999999" fill="#fff" stroke="#000" stroke-width="1.1"/>
<text transform="translate(543.3,357) rotate(-90)" class="f" text-anchor="middle">Frequency (kHz)</text>
<g filter="url(#j7)"><rect x="547" y="310.1" width="75.6" height="41" fill="#1f1f1f"/><ellipse cx="585" cy="311.1" rx="40" ry="3" fill="#0d0d0d" filter="url(#b2)" transform="rotate(0 585 311.1)"/><ellipse cx="585" cy="327.1" rx="34" ry="9" fill="#3d3d3d" filter="url(#b2)" transform="rotate(0 585 327.1)"/><ellipse cx="585" cy="337.1" rx="35.5" ry="13.5" fill="#5e5e5e" filter="url(#b2)" transform="rotate(0 585 337.1)"/><ellipse cx="585" cy="338.6" rx="34.5" ry="10" fill="#808080" filter="url(#b2)" transform="rotate(0 585 338.6)"/><ellipse cx="585" cy="340.6" rx="33.5" ry="5.5" fill="#a3a3a3" filter="url(#b1)" transform="rotate(0 585 340.6)"/><ellipse cx="569" cy="338.1" rx="11" ry="1.2" fill="#e0e0e0" filter="url(#b1)" transform="rotate(0 569 338.1)"/><ellipse cx="601" cy="343.1" rx="13" ry="1.2" fill="#dbdbdb" filter="url(#b1)" transform="rotate(0 601 343.1)"/><ellipse cx="587" cy="340.1" rx="8" ry="0.8" fill="#cccccc" filter="url(#b1)" transform="rotate(0 587 340.1)"/><ellipse cx="585" cy="348.70000000000005" rx="40" ry="1.8" fill="#0d0d0d" filter="url(#b1)" transform="rotate(0 585 348.70000000000005)"/></g>
<line x1="548.5" y1="352.4" x2="555.8" y2="352.4" stroke="#ea2a2e" stroke-width="1.2"/><line x1="568.6" y1="352.4" x2="585.8" y2="352.4" stroke="#ea2a2e" stroke-width="1.2"/><line x1="598.3" y1="352.4" x2="615.1" y2="352.4" stroke="#ea2a2e" stroke-width="1.2"/>
<g filter="url(#j8)"><rect x="547" y="357.2" width="75.6" height="41.1" fill="#1f1f1f"/><ellipse cx="579" cy="359.2" rx="40" ry="3" fill="#0d0d0d" filter="url(#b2)" transform="rotate(0 579 359.2)"/><ellipse cx="585" cy="373.2" rx="34" ry="7" fill="#3d3d3d" filter="url(#b2)" transform="rotate(0 585 373.2)"/><ellipse cx="585" cy="384.2" rx="35.5" ry="12.5" fill="#5e5e5e" filter="url(#b2)" transform="rotate(0 585 384.2)"/><ellipse cx="586" cy="385.7" rx="34" ry="9.5" fill="#808080" filter="url(#b2)" transform="rotate(0 586 385.7)"/><ellipse cx="587" cy="386.2" rx="32" ry="6" fill="#a3a3a3" filter="url(#b1)" transform="rotate(0 587 386.2)"/><ellipse cx="587" cy="385.2" rx="28" ry="1.6" fill="#e0e0e0" filter="url(#b1)" transform="rotate(0 587 385.2)"/><ellipse cx="585" cy="395.2" rx="40" ry="2.3" fill="#0a0a0a" filter="url(#b1)" transform="rotate(0 585 395.2)"/></g>
<line x1="576.9" y1="399.4" x2="583" y2="399.4" stroke="#ea2a2e" stroke-width="1.2"/><line x1="585.6" y1="399.4" x2="604.7" y2="399.4" stroke="#ea2a2e" stroke-width="1.2"/>
<rect x="637.8" y="311.7" width="39.10000000000002" height="87.80000000000001" fill="#fff" stroke="#000" stroke-width="0.9"/><rect x="640.2" y="353.7" width="4.8" height="45.8" fill="#0a0a8c"/><rect x="649.9" y="363.4" width="4.8" height="36.1" fill="#2acfe9"/><rect x="659.8" y="331.8" width="4.8" height="67.7" fill="#fac72a"/><rect x="669.5" y="328" width="5.0" height="71.5" fill="#7a0c0e"/><text x="636.3" y="317.8" class="b" text-anchor="end">0.4</text><text x="636.3" y="357.8" class="b" text-anchor="end">0.2</text><text x="636.3" y="400.8" class="b" text-anchor="end">0</text><rect x="637.8" y="311.7" width="39.10000000000002" height="87.80000000000001" fill="none" stroke="#000" stroke-width="0.9"/>
</svg>
</body></html>
